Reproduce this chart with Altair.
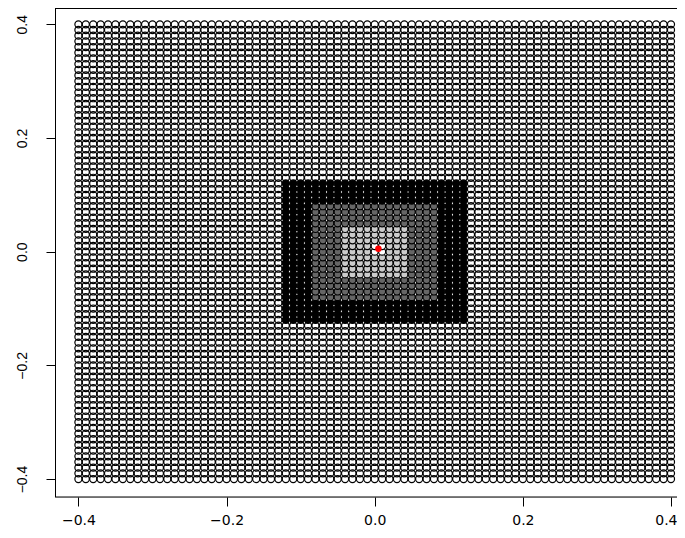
import altair as alt
import pandas as pd

alt.data_transformers.disable_max_rows()

# grid coordinates (both axes), step 0.01
GRID = [-0.40, -0.39, -0.38, -0.37, -0.36, -0.35, -0.34, -0.33, -0.32, -0.31,
        -0.30, -0.29, -0.28, -0.27, -0.26, -0.25, -0.24, -0.23, -0.22, -0.21,
        -0.20, -0.19, -0.18, -0.17, -0.16, -0.15, -0.14, -0.13, -0.12, -0.11,
        -0.10, -0.09, -0.08, -0.07, -0.06, -0.05, -0.04, -0.03, -0.02, -0.01,
        0.00, 0.01, 0.02, 0.03, 0.04, 0.05, 0.06, 0.07, 0.08, 0.09,
        0.10, 0.11, 0.12, 0.13, 0.14, 0.15, 0.16, 0.17, 0.18, 0.19,
        0.20, 0.21, 0.22, 0.23, 0.24, 0.25, 0.26, 0.27, 0.28, 0.29,
        0.30, 0.31, 0.32, 0.33, 0.34, 0.35, 0.36, 0.37, 0.38, 0.39, 0.40]

# shaded square half-widths (Chebyshev distance from origin) and their fills
LEVELS = ["light", "mid", "dark"]
HALF_WIDTHS = [0.04, 0.08, 0.12]
NEAREST = [(0.00, 0.00), (0.01, 0.00), (0.00, 0.01), (0.01, 0.01)]
QUERY_X = [0.005]
QUERY_Y = [0.005]

CATS = ["nearest", "light", "mid", "dark", "open"]
FILLS = ["#ffffff", "#cccccc", "#666666", "#000000", "transparent"]

TICKS = [-0.4, -0.2, 0.0, 0.2, 0.4]

rows = []
for xv in GRID:
    for yv in GRID:
        d = max(abs(xv), abs(yv))
        cat = "open"
        if (round(xv, 2), round(yv, 2)) in NEAREST:
            cat = "nearest"
        else:
            for lv, hw in zip(LEVELS, HALF_WIDTHS):
                if d <= hw + 1e-9:
                    cat = lv
                    break
        rows.append({"x": xv, "y": yv, "cat": cat})
df = pd.DataFrame(rows)
df_open = df[df.cat == "open"]
df_fill = df[df.cat != "open"]
df_q = pd.DataFrame({"x": QUERY_X, "y": QUERY_Y})

W, H = 622, 489
xs = alt.Scale(domain=[-0.4316, 0.4081], nice=False, zero=False)
ys = alt.Scale(domain=[-0.4316, 0.4287], nice=False, zero=False)

xax = alt.Axis(values=TICKS, format=".1f", title=None, grid=False, domain=False,
               tickSize=9, tickColor="black", tickWidth=1,
               labelFont="DejaVu Sans", labelFontSize=14, labelColor="black",
               labelBaseline="alphabetic", labelPadding=18.5,
               labelFlush=10, labelFlushOffset=6)
yax = alt.Axis(values=TICKS, format=".1f", title=None, grid=False, domain=False,
               tickSize=9, tickColor="black", tickWidth=1,
               labelFont="Liberation Sans", labelFontSize=14, labelColor="black",
               labelAngle=270, labelAlign="center", labelBaseline="alphabetic",
               labelPadding=20)

base_open = alt.Chart(df_open).mark_point(
    shape="circle", filled=False, stroke="black", strokeWidth=1.2, size=50, opacity=1
).encode(x=alt.X("x:Q", scale=xs, axis=xax), y=alt.Y("y:Q", scale=ys, axis=yax))

filled = alt.Chart(df_fill).mark_point(
    shape="circle", filled=True, stroke="black", strokeWidth=1.2, size=50, opacity=1,
    fillOpacity=1, strokeOpacity=1
).encode(
    x=alt.X("x:Q", scale=xs),
    y=alt.Y("y:Q", scale=ys),
    fill=alt.Fill("cat:N", scale=alt.Scale(domain=CATS, range=FILLS), legend=None),
)

query = alt.Chart(df_q).mark_point(
    shape="circle", filled=True, color="red", size=42, opacity=1, strokeWidth=0
).encode(x=alt.X("x:Q", scale=xs), y=alt.Y("y:Q", scale=ys))

frame_left = alt.Chart(df_q).mark_rule(color="black", strokeWidth=1).encode(
    x=alt.value(0.5), y=alt.value(0), y2=alt.value(H))
frame_top = alt.Chart(df_q).mark_rule(color="black", strokeWidth=1).encode(
    x=alt.value(0), x2=alt.value(W), y=alt.value(0.5))
frame_bottom = alt.Chart(df_q).mark_rule(color="black", strokeWidth=1).encode(
    x=alt.value(0), x2=alt.value(W), y=alt.value(H))

chart = alt.layer(base_open, filled, query, frame_left, frame_top, frame_bottom).properties(
    width=W, height=H,
    autosize=alt.AutoSizeParams(type="none"),
    padding={"left": 47, "top": 0, "right": 0, "bottom": 33},
).configure_view(stroke=None).configure(background="white")

chart.save("out.html", embed_options={"renderer": "svg", "actions": False})
